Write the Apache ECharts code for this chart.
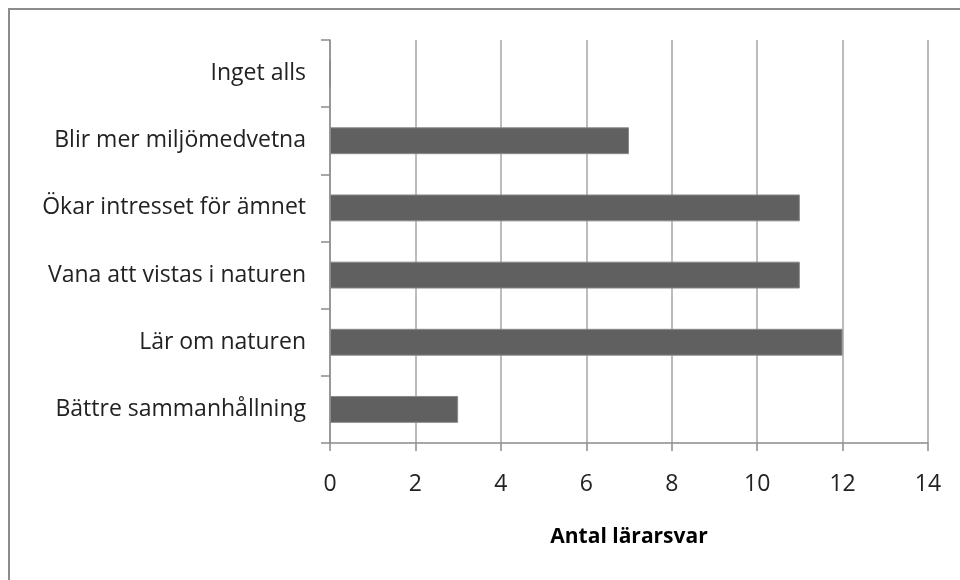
<!DOCTYPE html>
<html>
<head>
<meta charset="utf-8">
<script src="https://cdn.jsdelivr.net/npm/echarts@6/dist/echarts.min.js"></script>
<style>
  html, body { margin: 0; padding: 0; background: #fff; }
  #chart { width: 960px; height: 580px; }
</style>
</head>
<body>
<div id="chart"></div>
<script>
// categories listed bottom to top, as ECharts draws a category y axis
const categories = [
  "Bättre sammanhållning",
  "Lär om naturen",
  "Vana att vistas i naturen",
  "Ökar intresset för ämnet",
  "Blir mer miljömedvetna",
  "Inget alls"
];
const answers = [3, 12, 11, 11, 7, 0];
const xTicks = { min: 0, max: 14, step: 2 };
const xTitle = "Antal lärarsvar";

const chart = echarts.init(document.getElementById("chart"), null, { renderer: "canvas" });

const font = "'Open Sans', sans-serif";

chart.setOption({
  backgroundColor: "#fff",
  animation: false,
  // chart frame: only the left and top edges fall inside the picture
  graphic: [
    {
      type: "polyline",
      shape: { points: [[9, 580], [9, 9], [960, 9]] },
      style: { fill: null, stroke: "#8c8c8c", lineWidth: 2 }
    }
  ],
  grid: {
    left: 330,
    right: 32,
    top: 40,
    bottom: 137
  },
  xAxis: {
    type: "value",
    min: xTicks.min,
    max: xTicks.max,
    interval: xTicks.step,
    name: xTitle,
    nameLocation: "middle",
    nameGap: 84,
    nameTextStyle: { color: "#000", fontSize: 21, fontWeight: "bold", fontFamily: font },
    axisLine: { show: true, lineStyle: { color: "#8c8c8c", width: 1.5 } },
    axisTick: { show: true, length: 8, lineStyle: { color: "#8c8c8c", width: 1.5 } },
    axisLabel: { color: "#222", fontSize: 23, fontFamily: font, margin: 30 },
    splitLine: { show: true, lineStyle: { color: "#a6a6a6", width: 1.5 } }
  },
  yAxis: {
    type: "category",
    data: categories,
    axisLine: { show: true, lineStyle: { color: "#8c8c8c", width: 1.5 } },
    axisTick: { show: true, length: 9, alignWithLabel: false, lineStyle: { color: "#8c8c8c", width: 1.5 } },
    axisLabel: { color: "#222", fontSize: 23, fontFamily: font, margin: 24 },
    splitLine: { show: false }
  },
  series: [
    {
      type: "bar",
      data: answers,
      barWidth: "40%",
      itemStyle: { color: "#606060", borderColor: "#8a8a8a", borderWidth: 1 }
    }
  ]
});
</script>
</body>
</html>
